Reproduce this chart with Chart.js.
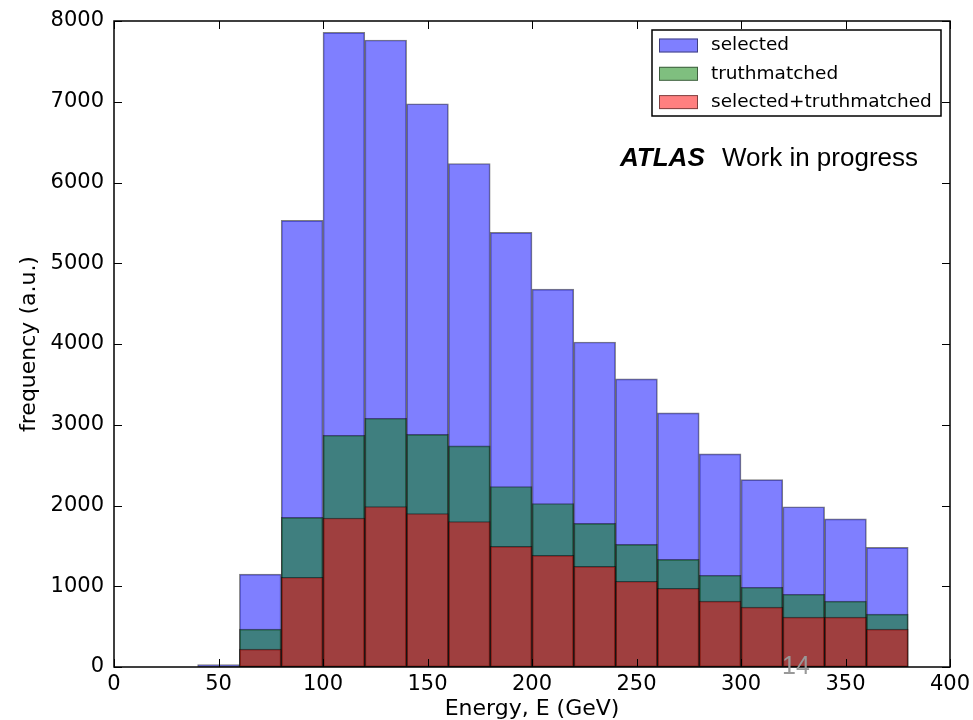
<!DOCTYPE html>
<html lang="en">
<head>
    <meta charset="UTF-8">
    <script src="https://cdn.jsdelivr.net/npm/chart.js"></script>
    <title>Energy histogram</title>
    <style>
        body { margin: 0; background: #fff; }
        #wrap { width: 973px; height: 720px; }
    </style>
</head>
<body>
    <div id="wrap">
        <canvas id="hist"></canvas>
    </div>
    <script>
        // bin centres (GeV), bins are 20 GeV wide
        const binCenters = [10, 30, 50, 70, 90, 110, 130, 150, 170, 190, 210, 230, 250, 270, 290, 310, 330, 350, 370];
        const selected = [0, 0, 30, 1150, 5530, 7860, 7765, 6975, 6235, 5383, 4680, 4025, 3568, 3148, 2640, 2321, 1985, 1835, 1481];
        const truthmatched = [0, 0, 0, 469, 1852, 2870, 3080, 2880, 2738, 2235, 2025, 1778, 1518, 1333, 1136, 988, 901, 815, 654];
        const selTruth = [0, 0, 0, 222, 1111, 1845, 1988, 1901, 1802, 1494, 1383, 1247, 1062, 975, 815, 741, 617, 617, 469];
        const xTicks = [0, 50, 100, 150, 200, 250, 300, 350, 400];
        const yTicks = [0, 1000, 2000, 3000, 4000, 5000, 6000, 7000, 8000];

        const pts = vals => vals.map((v, i) => ({x: binCenters[i], y: v}));

        // frame, inward ticks, legend box and annotation text
        const decor = {
            id: 'decor',
            afterDatasetsDraw(chart) {
                const ctx = chart.ctx;
                const a = chart.chartArea;
                const xs = chart.scales.x, ys = chart.scales.y;
                ctx.save();
                ctx.strokeStyle = '#000';
                ctx.lineWidth = 1;
                ctx.beginPath();
                xTicks.forEach(v => {
                    const px = Math.round(xs.getPixelForValue(v)) + 0.5;
                    ctx.moveTo(px, a.bottom); ctx.lineTo(px, a.bottom - 8);
                    ctx.moveTo(px, a.top); ctx.lineTo(px, a.top + 8);
                });
                yTicks.forEach(v => {
                    const py = Math.round(ys.getPixelForValue(v)) + 0.5;
                    ctx.moveTo(a.left, py); ctx.lineTo(a.left + 8, py);
                    ctx.moveTo(a.right, py); ctx.lineTo(a.right - 8, py);
                });
                ctx.stroke();
                ctx.lineWidth = 1.5;
                ctx.strokeRect(a.left, a.top, a.right - a.left, a.bottom - a.top);

                // legend
                ctx.fillStyle = '#fff';
                ctx.fillRect(652, 30, 289, 86);
                ctx.strokeStyle = '#000';
                ctx.lineWidth = 1.5;
                ctx.strokeRect(652, 30, 289, 86);
                ctx.font = '18.5px "DejaVu Sans"';
                ctx.textBaseline = 'middle';
                chart.data.datasets.forEach((ds, i) => {
                    const cy = 45.5 + i * 28.3;
                    ctx.fillStyle = ds.backgroundColor;
                    ctx.fillRect(659, cy - 7, 39, 14);
                    ctx.strokeStyle = ds.borderColor;
                    ctx.lineWidth = 1;
                    ctx.strokeRect(659.5, cy - 6.5, 38, 13);
                    ctx.fillStyle = '#000';
                    ctx.fillText(ds.label, 711, cy);
                });

                // ATLAS label
                ctx.textBaseline = 'alphabetic';
                ctx.fillStyle = '#000';
                ctx.font = 'italic bold 26px "Liberation Sans"';
                ctx.fillText('ATLAS', 620, 166);
                ctx.font = '26px "Liberation Sans"';
                ctx.fillText('Work in progress', 722, 166);

                // slide page number
                ctx.fillStyle = '#999';
                ctx.font = '25px "Liberation Sans"';
                ctx.fillText('14', 782, 674);
                ctx.restore();
            }
        };

        const tickFont = {family: 'DejaVu Sans', size: 21};
        const titleFont = {family: 'DejaVu Sans', size: 22, lineHeight: 1.0};

        new Chart(document.getElementById('hist'), {
            type: 'bar',
            data: {
                datasets: [
                    {label: 'selected', data: pts(selected), order: 3,
                     backgroundColor: 'rgba(0, 0, 255, 0.5)', borderColor: 'rgba(0, 0, 0, 0.5)'},
                    {label: 'truthmatched', data: pts(truthmatched), order: 2,
                     backgroundColor: 'rgba(0, 128, 0, 0.5)', borderColor: 'rgba(0, 0, 0, 0.5)'},
                    {label: 'selected+truthmatched', data: pts(selTruth), order: 1,
                     backgroundColor: 'rgba(255, 0, 0, 0.5)', borderColor: 'rgba(0, 0, 0, 0.5)'}
                ]
            },
            options: {
                responsive: true,
                maintainAspectRatio: false,
                animation: false,
                layout: {padding: {top: 21, right: 23, bottom: 0, left: 0}},
                datasets: {
                    bar: {
                        grouped: false,
                        barPercentage: 1,
                        categoryPercentage: 1,
                        borderWidth: 1,
                        borderSkipped: false
                    }
                },
                plugins: {
                    legend: {display: false},
                    tooltip: {enabled: false}
                },
                scales: {
                    x: {
                        type: 'linear',
                        min: 0,
                        max: 400,
                        offset: false,
                        grid: {display: false, drawTicks: false},
                        border: {display: false},
                        afterBuildTicks: s => { s.ticks = xTicks.map(v => ({value: v})); },
                        afterFit: s => { s.height = 53; s.paddingLeft = 0; s.paddingRight = 0; },
                        ticks: {font: tickFont, color: '#000', padding: 5, maxRotation: 0, autoSkip: false,
                                callback: v => String(v)},
                        title: {display: true, text: 'Energy, E (GeV)', font: titleFont, color: '#000', padding: 0}
                    },
                    y: {
                        min: 0,
                        max: 8000,
                        grid: {display: false, drawTicks: false},
                        border: {display: false},
                        afterBuildTicks: s => { s.ticks = yTicks.map(v => ({value: v})); },
                        afterFit: s => { s.width = 114; s.paddingTop = 0; s.paddingBottom = 0; },
                        ticks: {font: tickFont, color: '#000', padding: 10, callback: v => String(v)},
                        title: {display: true, text: 'frequency (a.u.)', font: titleFont, color: '#000', padding: {top: 18, bottom: 0}}
                    }
                }
            },
            plugins: [decor]
        });
    </script>
</body>
</html>
